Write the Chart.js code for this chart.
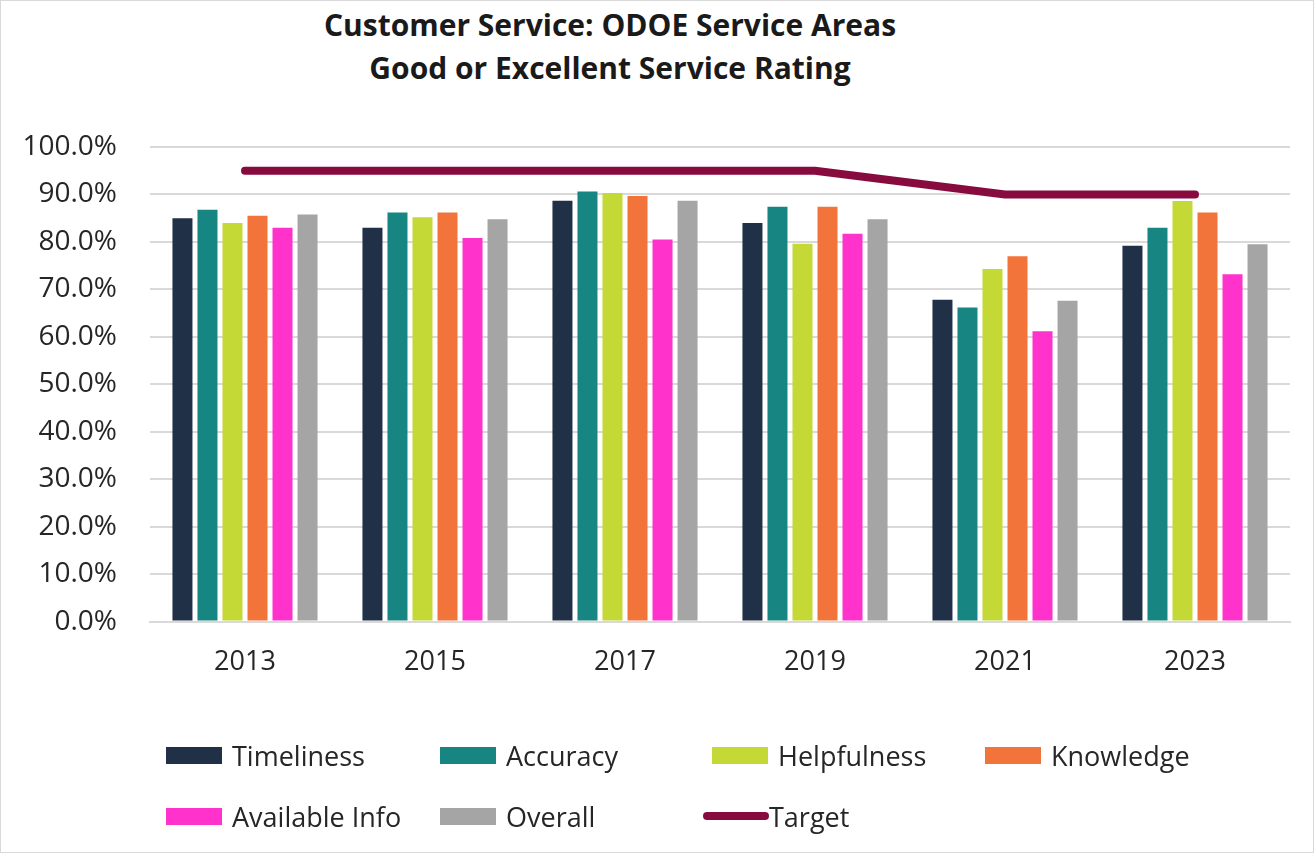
<!DOCTYPE html>
<html>
<head>
<meta charset="utf-8">
<script src="https://cdn.jsdelivr.net/npm/chart.js@4/dist/chart.umd.min.js"></script>
<style>
  html, body { margin: 0; padding: 0; background: #fff; }
  #marco {
    position: relative;
    width: 1312px;
    height: 851px;
    border: 1px solid #d9d9d9;
    font-family: 'Open Sans', sans-serif;
    color: #262626;
    overflow: hidden;
  }
  #titulo {
    position: absolute;
    left: 259px;
    width: 700px;
    top: 2px;
    text-align: center;
    font-weight: bold;
    font-size: 30px;
    line-height: 43px;
    color: #1a1a1a;
  }
  #grafico { position: absolute; left: -1px; top: -1px; }
  #leyenda {
    position: absolute;
    left: 165px;
    top: 734px;
    display: grid;
    grid-template-columns: 274px 272px 273px 272px;
    grid-auto-rows: 61px;
    font-size: 27px;
  }
  .item { display: flex; align-items: center; height: 40px; }
  .muestra { width: 56px; height: 17px; margin-right: 10px; }
  .muestra.linea { height: 8px; border-radius: 4px; margin-right: 0; width: 66px; margin-left: -9px; }
</style>
</head>
<body>
<div id="marco">
  <div id="titulo">Customer Service: ODOE Service Areas<br>Good or Excellent Service Rating</div>
  <canvas id="grafico" width="1314" height="853"></canvas>
  <div id="leyenda"></div>
</div>
<script>
/* ===========================
   Customer Service - calificación por área
   =========================== */

const ANIOS = ['2013', '2015', '2017', '2019', '2021', '2023'];

// porcentaje "Good or Excellent" por área
const timeliness   = [85.0, 83.0, 88.7, 84.0, 67.8, 79.2];
const accuracy     = [86.8, 86.2, 90.6, 87.4, 66.2, 83.0];
const helpfulness  = [84.0, 85.2, 90.3, 79.6, 74.3, 88.6];
const knowledge    = [85.5, 86.2, 89.7, 87.4, 77.0, 86.2];
const availableInfo = [83.0, 80.8, 80.5, 81.7, 61.2, 73.2];
const overall      = [85.8, 84.8, 88.7, 84.8, 67.6, 79.5];
const target       = [95, 95, 95, 95, 90, 90];

const Y_TICKS = [0, 10, 20, 30, 40, 50, 60, 70, 80, 90, 100];

const TEXTO = '#262626';
const GRILLA = '#d9d9d9';

function serieBarra(label, data, color) {
  return {
    type: 'bar',
    label,
    data,
    backgroundColor: color,
    borderWidth: 0,
    categoryPercentage: 0.79,
    barPercentage: 0.8,
    order: 1,
  };
}

const datasets = [
  serieBarra('Timeliness', timeliness, '#203047'),
  serieBarra('Accuracy', accuracy, '#178582'),
  serieBarra('Helpfulness', helpfulness, '#c5d936'),
  serieBarra('Knowledge', knowledge, '#f2743a'),
  serieBarra('Available Info', availableInfo, '#ff33cc'),
  serieBarra('Overall', overall, '#a5a5a5'),
  {
    type: 'line',
    label: 'Target',
    data: target,
    borderColor: '#880b40',
    backgroundColor: '#880b40',
    borderWidth: 8,
    borderCapStyle: 'round',
    borderJoinStyle: 'round',
    pointRadius: 0,
    tension: 0,
    order: 0,
  },
];

const chart = new Chart(document.getElementById('grafico'), {
  data: { labels: ANIOS, datasets },
  options: {
    responsive: false,
    animation: false,
    layout: { padding: { left: 20, right: 24, top: 147, bottom: 149 } },
    plugins: {
      legend: { display: false },
      title: { display: false },
      tooltip: { enabled: false },
    },
    scales: {
      x: {
        grid: { display: true, drawOnChartArea: false, drawTicks: false },
        border: { color: GRILLA, width: 2 },
        ticks: {
          color: TEXTO,
          padding: 25,
          font: { family: 'Open Sans', size: 27 },
        },
      },
      y: {
        min: 0,
        max: 100,
        afterBuildTicks: s => { s.ticks = Y_TICKS.map(v => ({ value: v })); },
        afterFit: s => { s.width = 130; },
        grid: { color: GRILLA, lineWidth: 2, drawTicks: false },
        border: { display: false },
        ticks: {
          color: TEXTO,
          padding: 33,
          font: { family: 'Open Sans', size: 28 },
          callback: v => v.toFixed(1) + '%',
        },
      },
    },
  },
});

// --------- Leyenda en columnas ---------

function renderLeyenda(c) {
  const cont = document.getElementById('leyenda');
  cont.innerHTML = c.data.datasets.map(d => {
    const clase = d.type === 'line' ? 'muestra linea' : 'muestra';
    return `<div class="item"><span class="${clase}" style="background:${d.backgroundColor}"></span>${d.label}</div>`;
  }).join('');
}

renderLeyenda(chart);
</script>
</body>
</html>
